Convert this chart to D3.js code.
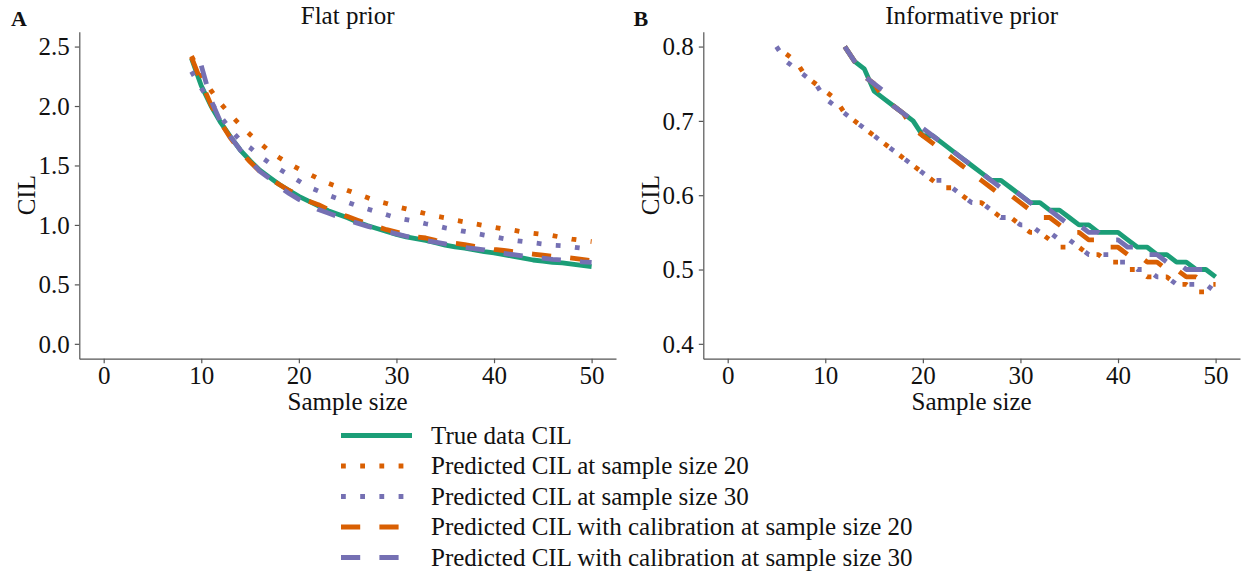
<!DOCTYPE html>
<html>
<head>
<meta charset="utf-8">
<script src="https://cdn.jsdelivr.net/npm/d3@7"></script>
<style>
  body { margin: 0; background: #fff; }
  svg { display: block; }
  text { font-family: "Liberation Serif", "DejaVu Serif", serif; fill: #111; }
</style>
</head>
<body>
<svg id="chart" width="1244" height="575"></svg>
<script>
// ---- Axis ticks ----
const sampleTicks = [0, 10, 20, 30, 40, 50];
const flatTicksY = [0, 0.5, 1.0, 1.5, 2.0, 2.5];
const infoTicksY = [0.4, 0.5, 0.6, 0.7, 0.8];

// ---- Series (legend order) ----
const seriesNames = [
  "True data CIL",
  "Predicted CIL at sample size 20",
  "Predicted CIL at sample size 30",
  "Predicted CIL with calibration at sample size 20",
  "Predicted CIL with calibration at sample size 30"
];

// ---- Flat prior: first sample size of each series, then CIL per sample size ----
const flatStart = [9, 9, 9, 9, 10];
const flatTrue = [2.40, 2.17, 2.00, 1.86, 1.74, 1.63, 1.54, 1.46, 1.40, 1.34, 1.29, 1.24, 1.20, 1.16,
  1.12, 1.09, 1.06, 1.025, 0.995, 0.97, 0.945, 0.92, 0.90, 0.885, 0.87, 0.85, 0.83, 0.815, 0.805,
  0.79, 0.775, 0.765, 0.75, 0.735, 0.72, 0.705, 0.695, 0.685, 0.68, 0.67, 0.66, 0.65];
const flatPred20 = [2.42, 2.26, 2.13, 2.02, 1.925, 1.84, 1.76, 1.69, 1.62, 1.565, 1.515, 1.47, 1.43,
  1.39, 1.35, 1.32, 1.29, 1.26, 1.23, 1.20, 1.18, 1.155, 1.135, 1.115, 1.095, 1.075, 1.06, 1.04,
  1.025, 1.01, 0.995, 0.98, 0.965, 0.955, 0.94, 0.93, 0.92, 0.91, 0.895, 0.88, 0.87, 0.86];
const flatPred30 = [2.29, 2.15, 2.03, 1.91, 1.80, 1.71, 1.65, 1.58, 1.52, 1.47, 1.42, 1.37, 1.32,
  1.285, 1.25, 1.22, 1.19, 1.16, 1.135, 1.11, 1.085, 1.06, 1.045, 1.03, 1.01, 0.995, 0.975, 0.96,
  0.945, 0.93, 0.915, 0.90, 0.885, 0.87, 0.86, 0.85, 0.84, 0.83, 0.825, 0.815, 0.805, 0.80];
const flatCal20 = [2.41, 2.20, 2.01, 1.86, 1.73, 1.62, 1.53, 1.45, 1.39, 1.34, 1.29, 1.25, 1.20,
  1.17, 1.13, 1.10, 1.07, 1.04, 1.01, 0.985, 0.96, 0.94, 0.92, 0.90, 0.89, 0.87, 0.855, 0.845,
  0.835, 0.82, 0.81, 0.795, 0.785, 0.775, 0.765, 0.755, 0.745, 0.735, 0.73, 0.72, 0.71, 0.70];
const flatCal30 = [2.34, 2.05, 1.86, 1.74, 1.63, 1.54, 1.45, 1.39, 1.32, 1.265, 1.215, 1.17, 1.13,
  1.10, 1.07, 1.04, 1.015, 0.99, 0.965, 0.945, 0.925, 0.905, 0.885, 0.87, 0.855, 0.84, 0.825, 0.81,
  0.80, 0.79, 0.77, 0.76, 0.75, 0.74, 0.73, 0.72, 0.71, 0.705, 0.70, 0.69, 0.685];

// ---- Informative prior ----
const infoStart = [12, 6, 5, 12, 12];
const infoTrue = [0.80, 0.78, 0.77, 0.74, 0.73, 0.72, 0.71, 0.70, 0.68, 0.68, 0.67, 0.66, 0.65,
  0.64, 0.63, 0.62, 0.62, 0.61, 0.60, 0.59, 0.59, 0.58, 0.58, 0.57, 0.56, 0.56, 0.55, 0.55, 0.55,
  0.54, 0.53, 0.53, 0.52, 0.52, 0.51, 0.51, 0.50, 0.50, 0.49];
const infoPred20 = [0.79, 0.78, 0.76, 0.75, 0.74, 0.73, 0.71, 0.70, 0.69, 0.68, 0.67, 0.66, 0.65,
  0.64, 0.63, 0.62, 0.61, 0.61, 0.60, 0.59, 0.59, 0.58, 0.57, 0.57, 0.56, 0.55, 0.55, 0.54, 0.53,
  0.53, 0.53, 0.52, 0.52, 0.51, 0.51, 0.50, 0.50, 0.49, 0.49, 0.49, 0.48, 0.48, 0.47, 0.47, 0.48];
const infoPred30 = [0.80, 0.78, 0.77, 0.76, 0.75, 0.73, 0.72, 0.71, 0.70, 0.69, 0.68, 0.67, 0.66,
  0.65, 0.64, 0.63, 0.62, 0.62, 0.61, 0.60, 0.59, 0.59, 0.58, 0.57, 0.57, 0.56, 0.56, 0.55, 0.55,
  0.54, 0.54, 0.53, 0.52, 0.52, 0.52, 0.51, 0.51, 0.50, 0.50, 0.49, 0.49, 0.48, 0.48, 0.48, 0.48, 0.47];
const infoCal20 = [0.80, 0.78, 0.76, 0.75, 0.73, 0.72, 0.71, 0.69, 0.68, 0.67, 0.66, 0.65, 0.64,
  0.63, 0.62, 0.61, 0.60, 0.60, 0.59, 0.58, 0.57, 0.57, 0.56, 0.55, 0.55, 0.54, 0.54, 0.53, 0.53,
  0.52, 0.52, 0.51, 0.51, 0.50, 0.50, 0.49, 0.49, 0.48, 0.48];
const infoCal30 = [0.80, 0.78, 0.76, 0.75, 0.74, 0.72, 0.71, 0.70, 0.69, 0.68, 0.67, 0.66, 0.65,
  0.64, 0.63, 0.62, 0.61, 0.61, 0.60, 0.59, 0.58, 0.58, 0.57, 0.56, 0.56, 0.55, 0.55, 0.54, 0.54,
  0.53, 0.53, 0.52, 0.52, 0.51, 0.51, 0.50, 0.50, 0.50, 0.49];

// ---- Styling ----
const LW = 4.8;
const seriesColors = ["#1B9E77", "#D95F02", "#7570B3", "#D95F02", "#7570B3"];
const seriesDash = [null, `${LW} ${LW * 3}`, `${LW} ${LW * 3}`, `${LW * 4} ${LW * 4}`, `${LW * 4} ${LW * 4}`];
const FONT = 25;
const AXIS_GREY = "#555";

const svg = d3.select("#chart");

function toPoints(start, values) {
  return values.map((v, i) => ({ n: start + i, cil: v }));
}

function drawPanel(opts) {
  const { left, right, top, bottom, yDomain, yTicks, tag, title, starts, series } = opts;
  const g = svg.append("g");

  const x = d3.scaleLinear().domain([-2.5, 52.5]).range([left, right]);
  const y = d3.scaleLinear().domain(yDomain).range([bottom, top]);

  // axes
  const xAxis = d3.axisBottom(x).tickValues(sampleTicks).tickFormat(d3.format("d"))
    .tickSizeInner(4.5).tickSizeOuter(0).tickPadding(5);
  const yAxis = d3.axisLeft(y).tickValues(yTicks).tickFormat(d3.format(".1f"))
    .tickSizeInner(4.5).tickSizeOuter(0).tickPadding(5);

  const gx = g.append("g").attr("transform", `translate(0,${bottom})`).call(xAxis);
  const gy = g.append("g").attr("transform", `translate(${left},0)`).call(yAxis);
  [gx, gy].forEach(a => {
    a.select(".domain").attr("stroke", AXIS_GREY).attr("stroke-width", 1.2);
    a.selectAll(".tick line").attr("stroke", AXIS_GREY).attr("stroke-width", 1.2);
    a.selectAll(".tick text").attr("font-size", FONT).attr("fill", "#111");
  });
  gx.selectAll(".tick text").attr("dy", null).attr("y", 0)
    .attr("transform", "translate(0,25)");
  gy.selectAll(".tick text").attr("dy", "0.33em");

  // series lines
  const line = d3.line().x(d => x(d.n)).y(d => y(d.cil));
  series.forEach((vals, i) => {
    g.append("path")
      .datum(toPoints(starts[i], vals))
      .attr("d", line)
      .attr("fill", "none")
      .attr("stroke", seriesColors[i])
      .attr("stroke-width", LW)
      .attr("stroke-linecap", "butt")
      .attr("stroke-linejoin", "round")
      .attr("stroke-dasharray", seriesDash[i]);
  });

  // titles and labels
  const cx = (left + right) / 2;
  g.append("text").attr("x", cx).attr("y", 24).attr("text-anchor", "middle")
    .attr("font-size", FONT).text(title);
  g.append("text").attr("x", tag.x).attr("y", 26).attr("font-size", 22)
    .attr("font-weight", "bold").text(tag.label);
  g.append("text").attr("x", cx).attr("y", 410).attr("text-anchor", "middle")
    .attr("font-size", FONT).text("Sample size");
  g.append("text").attr("transform", `translate(${left - 44},${(top + bottom) / 2}) rotate(-90)`)
    .attr("text-anchor", "middle").attr("font-size", FONT).text("CIL");
}

drawPanel({
  left: 79.3, right: 616, top: 31.7, bottom: 358.7,
  yDomain: [-0.125, 2.625], yTicks: flatTicksY,
  tag: { x: 11, label: "A" }, title: "Flat prior",
  starts: flatStart,
  series: [flatTrue, flatPred20, flatPred30, flatCal20, flatCal30]
});

drawPanel({
  left: 703.3, right: 1240, top: 31.7, bottom: 358.7,
  yDomain: [0.38, 0.82], yTicks: infoTicksY,
  tag: { x: 633.5, label: "B" }, title: "Informative prior",
  starts: infoStart,
  series: [infoTrue, infoPred20, infoPred30, infoCal20, infoCal30]
});

// ---- Legend ----
const legend = svg.append("g");
const rowY = i => 435.5 + i * 30.5;
seriesNames.forEach((name, i) => {
  legend.append("line")
    .attr("x1", 341).attr("x2", 412)
    .attr("y1", rowY(i)).attr("y2", rowY(i))
    .attr("stroke", seriesColors[i]).attr("stroke-width", LW)
    .attr("stroke-linecap", "butt")
    .attr("stroke-dasharray", seriesDash[i]);
  legend.append("text").attr("x", 431).attr("y", rowY(i)).attr("dy", "0.33em")
    .attr("font-size", FONT).text(name);
});
</script>
</body>
</html>
